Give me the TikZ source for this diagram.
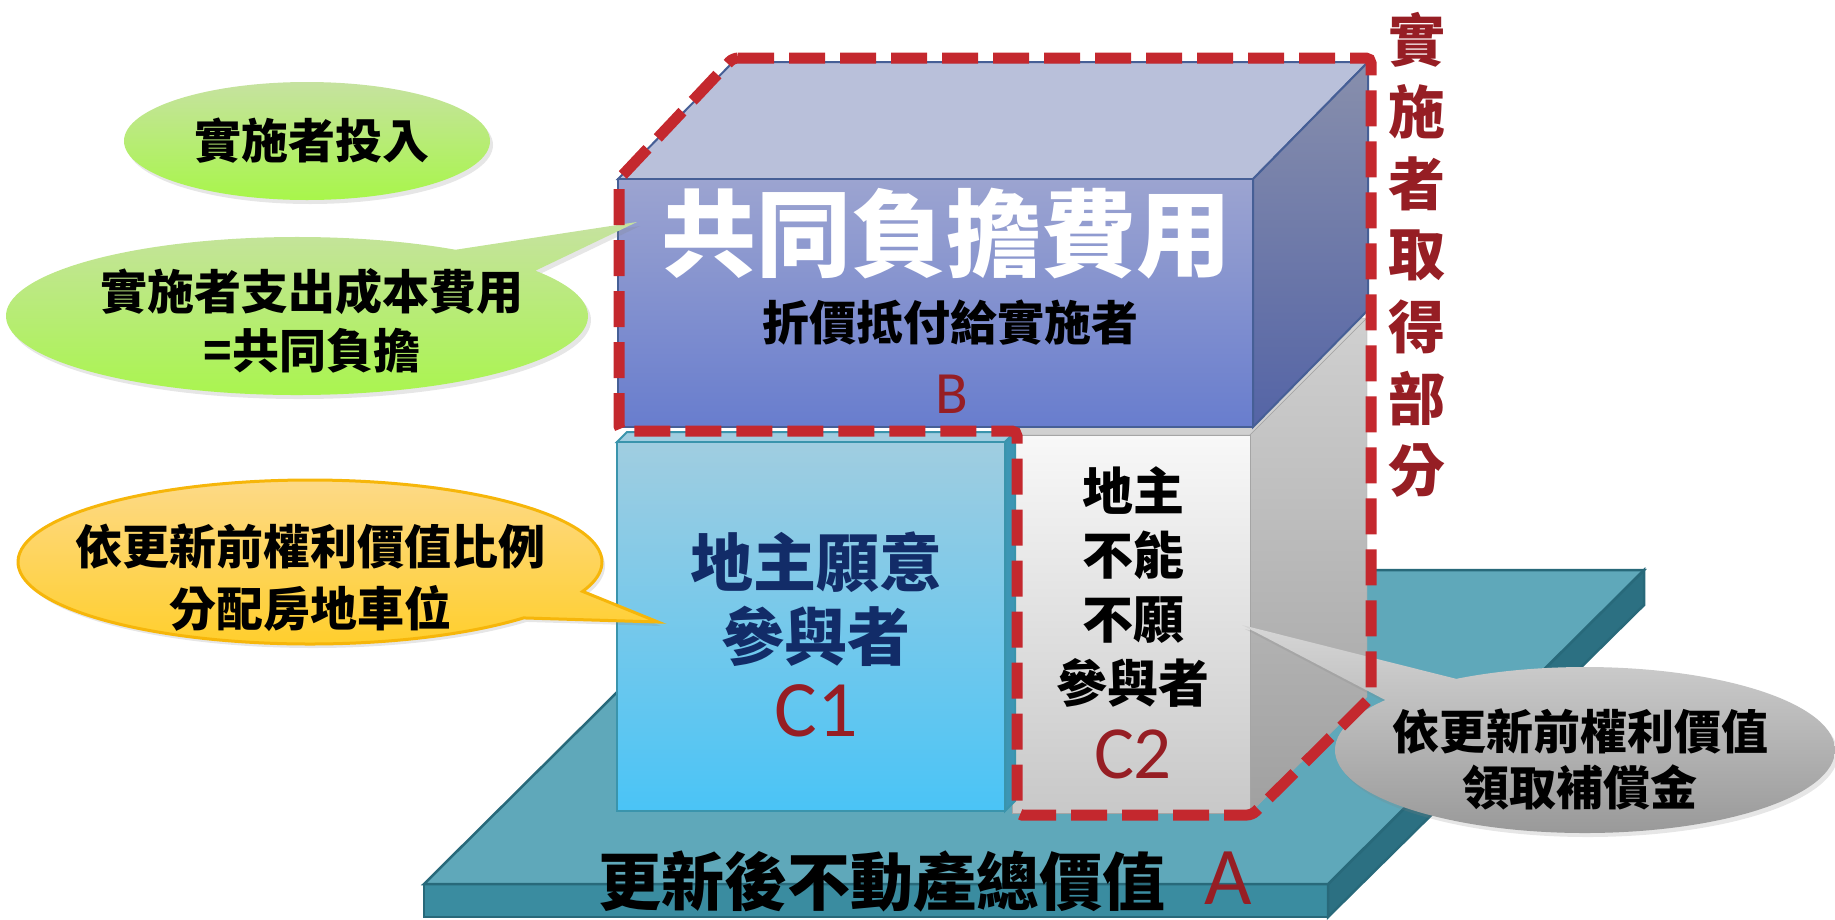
\documentclass[tikz,border=0pt]{standalone}
\usepackage{fontspec}
\newfontfamily\cjk{Noto Sans CJK TC}
\newfontfamily\lat{Carlito}
\usetikzlibrary{shadows}
\definecolor{slabtop}{RGB}{95,168,186}
\definecolor{slabfront}{RGB}{58,140,160}
\definecolor{slabside}{RGB}{44,112,130}
\definecolor{slabline}{RGB}{40,105,122}
\definecolor{btop}{RGB}{185,192,218}
\definecolor{bfronttop}{RGB}{156,164,208}
\definecolor{bfrontbot}{RGB}{104,125,206}
\definecolor{bsidetop}{RGB}{136,143,172}
\definecolor{bsidebot}{RGB}{84,100,166}
\definecolor{bline}{RGB}{70,95,150}
\definecolor{conetop}{RGB}{160,205,224}
\definecolor{conebot}{RGB}{74,196,246}
\definecolor{coneside}{RGB}{60,150,180}
\definecolor{coneline}{RGB}{58,148,172}
\definecolor{ctwotop}{RGB}{248,248,248}
\definecolor{ctwobot}{RGB}{200,200,200}
\definecolor{ctwosidetop}{RGB}{208,208,208}
\definecolor{ctwosidebot}{RGB}{160,160,160}
\definecolor{ctwoline}{RGB}{165,165,165}
\definecolor{dashred}{RGB}{196,40,46}
\definecolor{labelred}{RGB}{150,30,36}
\definecolor{navytext}{RGB}{18,44,104}
\definecolor{greentop}{RGB}{198,226,160}
\definecolor{greenbot}{RGB}{168,246,74}
\definecolor{orangetop}{RGB}{253,218,140}
\definecolor{orangebot}{RGB}{255,206,40}
\definecolor{orangeline}{RGB}{246,182,10}
\definecolor{graytop}{RGB}{214,214,214}
\definecolor{graybot}{RGB}{150,150,150}
\begin{document}
\begin{tikzpicture}[x=1pt,y=-1pt,
    every node/.style={inner sep=0pt,align=center},
    txt/.style 2 args={font=\cjk\bfseries\fontsize{#1}{#2}\selectfont},
    bigred/.style={text=labelred,font=\lat\fontsize{#1}{#1}\selectfont},
    callout/.style={drop shadow={opacity=0.2,shadow xshift=3pt,shadow yshift=-4pt}}]
    \useasboundingbox (0,0) rectangle (1835,919);
    \filldraw[draw=slabline,fill=slabfront,line width=2.5] (424,884) rectangle (1328,917);
    \filldraw[draw=slabline,fill=slabside,line width=2.5] (1328,884) -- (1644,570)
        -- (1644,605) -- (1328,917) -- cycle;
    \filldraw[draw=slabline,fill=slabtop,line width=2.5] (424,884) -- (1328,884)
        -- (1644,570) -- (740,570) -- cycle;
    \filldraw[draw=ctwoline,fill=ctwosidetop] (1012,435) -- (1250,435) -- (1367,318)
        -- (1129,318) -- cycle;
    \path[draw=ctwoline,top color=ctwosidetop,bottom color=ctwosidebot] (1250,435)
        -- (1367,318) -- (1367,697) -- (1250,813) -- cycle;
    \path[draw=ctwoline,top color=ctwotop,bottom color=ctwobot] (1012,435) rectangle (1250,813);
    \filldraw[draw=coneline,fill=conetop,line width=2] (617,442) -- (1005,442)
        -- (1015,432) -- (627,432) -- cycle;
    \filldraw[draw=coneline,fill=coneside,line width=2] (1005,442) -- (1015,432)
        -- (1015,801) -- (1005,811) -- cycle;
    \path[draw=coneline,line width=2.5,top color=conetop,bottom color=conebot]
        (617,442) rectangle (1005,811);
    \filldraw[draw=bline,fill=btop,line width=2] (618,179) -- (1253,179) -- (1368,62)
        -- (733,62) -- cycle;
    \path[draw=bline,line width=2,top color=bsidetop,bottom color=bsidebot] (1253,179)
        -- (1368,62) -- (1368,310) -- (1253,427) -- cycle;
    \path[draw=bline,line width=2,top color=bfronttop,bottom color=bfrontbot]
        (618,179) rectangle (1253,427);
    \coordinate (gcen) at (297,316);
    \coordinate (ocen) at (310,562);
    \coordinate (kcen) at (1585,750);
    \path[callout,top color=greentop,bottom color=greenbot] (307,141)
        ellipse[x radius=183,y radius=59];
    \path[callout,top color=greentop,bottom color=greenbot]
        ([shift={(-35:291 and 79)}]gcen) -- (637,222) -- ([shift={(-57:291 and 79)}]gcen)
        arc[start angle=-57,end angle=-395,x radius=291,y radius=79] -- cycle;
    \path[callout,draw=orangeline,line width=3,top color=orangetop,bottom color=orangebot]
        ([shift={(21:292 and 82)}]ocen) -- (658,622) -- ([shift={(43:292 and 82)}]ocen)
        arc[start angle=43,end angle=381,x radius=292,y radius=82] -- cycle;
    \path[callout,top color=graytop,bottom color=graybot]
        ([shift={(-121:250 and 83)}]kcen) -- (1242,625) -- ([shift={(-143:250 and 83)}]kcen)
        arc[start angle=-143,end angle=-481,x radius=250,y radius=83] -- cycle;
    \draw[dashred,line width=11,dash pattern=on 36pt off 15pt,rounded corners=5]
        (733,58) -- (1371,58) -- (1371,697) -- (1252,815) -- (1017,815)
        -- (1017,431) -- (619,431) -- (619,179) -- cycle;
    \node[txt={47}{59}] (invest) at (312,141) {實施者投入};
    \node[txt={47}{59}] (cost) at (312,321) {實施者支出成本費用\\=共同負擔};
    \node[txt={47}{62}] (share) at (310,578) {依更新前權利價值比例\\分配房地車位};
    \node[txt={47}{56}] (comp) at (1580,759) {依更新前權利價值\\領取補償金};
    \node[txt={95}{95},text=white] (common) at (946,234) {共同負擔費用};
    \node[txt={47}{59}] (offset) at (950,323) {折價抵付給實施者};
    \node[bigred=60] (b) at (952,394) {B};
    \node[txt={63}{74},text=navytext] (willing) at (816,599) {地主願意\\參與者};
    \node[bigred=80] (c1) at (816,711) {C1};
    \node[txt={51}{64}] (unable) at (1133,587) {地主\\不能\\不願\\參與者};
    \node[bigred=75] (c2) at (1133,754) {C2};
    \node[txt={63}{63}] (total) at (882,882) {更新後不動產總價值};
    \node[bigred=82] (a) at (1228,878) {A};
    \foreach \ch [count=\i] in {實,施,者,取,得,部,分}
        \node[txt={57}{57},text=labelred] (part\i) at (1417,{40+71.8*(\i-1)}) {\ch};
\end{tikzpicture}
\end{document}
